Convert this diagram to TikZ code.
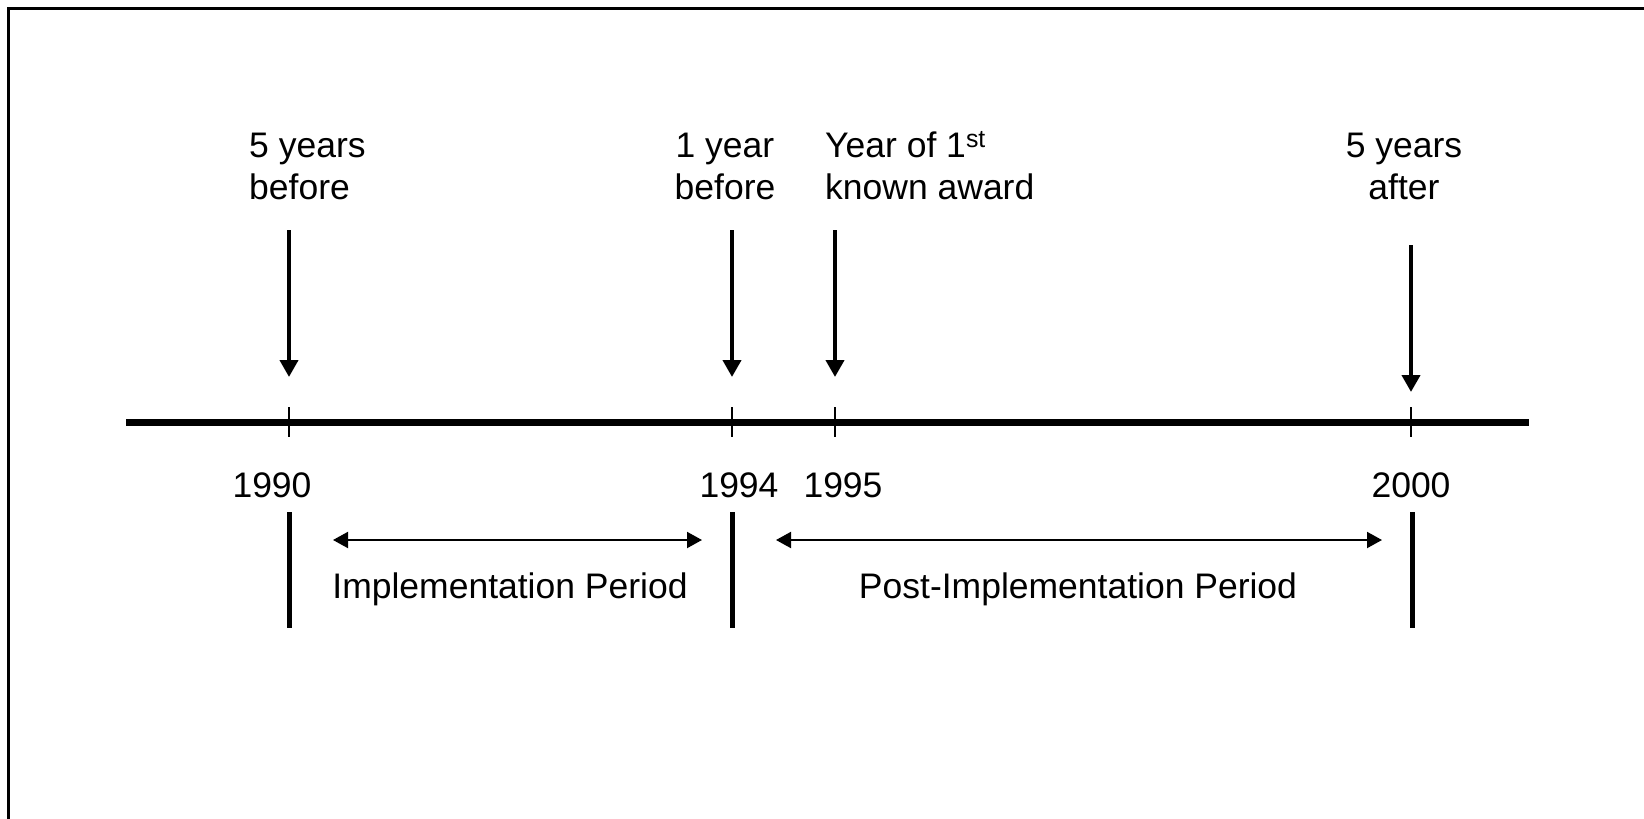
\documentclass[tikz,border=0pt]{standalone}
\usepackage{fontspec}
\setmainfont{Liberation Sans}
\usetikzlibrary{arrows.meta}
\begin{document}
\begin{tikzpicture}[x=1pt,y=-1pt,
  lbl/.style={font=\fontsize{35.5}{42}\selectfont, inner sep=0pt},
  axisline/.style={line width=7pt},
  tickline/.style={line width=2pt},
  downarrow/.style={line width=4pt,-{Triangle[width=18pt,length=17pt]}},
  barline/.style={line width=5pt},
  periodarrow/.style={line width=2pt,{Triangle[width=16pt,length=15pt]}-{Triangle[width=16pt,length=15pt]}}]
\useasboundingbox (0,0) rectangle (1644,819);
\fill[white] (0,0) rectangle (1644,819);
% frame (cropped at right and bottom)
\coordinate (fbl) at (8,819);
\coordinate (ftl) at (8,8);
\coordinate (ftr) at (1644,8);
\draw[line width=3pt] (fbl) -- (ftl) -- (ftr);
% axis
\coordinate (axL) at (126,422);
\coordinate (axR) at (1529,422);
\draw[axisline] (axL) -- (axR);
% ticks
\foreach \n/\x in {a/289,b/732,c/835,d/1411}{
  \coordinate (tk\n t) at (\x,407);
  \coordinate (tk\n b) at (\x,437);
  \draw[tickline] (tk\n t) -- (tk\n b);
}
% down arrows
\coordinate (da1s) at (289,230); \coordinate (da1e) at (289,377);
\coordinate (da2s) at (732,230); \coordinate (da2e) at (732,377);
\coordinate (da3s) at (835,230); \coordinate (da3e) at (835,377);
\coordinate (da4s) at (1411,245); \coordinate (da4e) at (1411,392);
\draw[downarrow] (da1s) -- (da1e);
\draw[downarrow] (da2s) -- (da2e);
\draw[downarrow] (da3s) -- (da3e);
\draw[downarrow] (da4s) -- (da4e);
% top labels (base anchor = baseline of last line)
\node[lbl, anchor=base west, align=left] (t1) at (249,199) {5 years\\before};
\node[lbl, anchor=base, align=center] (t2) at (725,199) {1 year\\before};
\node[lbl, anchor=base west, align=left] (t3) at (825,199) {Year of 1\textsuperscript{st}\\known award};
\node[lbl, anchor=base, align=center] (t4) at (1404,199) {5 years\\after};
% year labels
\node[lbl, anchor=base] (y1) at (272,497) {1990};
\node[lbl, anchor=base] (y2) at (739,497) {1994};
\node[lbl, anchor=base] (y3) at (843,497) {1995};
\node[lbl, anchor=base] (y4) at (1411,497) {2000};
% bars
\coordinate (b1t) at (289,512); \coordinate (b1b) at (289,628);
\coordinate (b2t) at (732,512); \coordinate (b2b) at (732,628);
\coordinate (b3t) at (1412,512); \coordinate (b3b) at (1412,628);
\draw[barline] (b1t) -- (b1b);
\draw[barline] (b2t) -- (b2b);
\draw[barline] (b3t) -- (b3b);
% period arrows
\coordinate (p1l) at (333,540); \coordinate (p1r) at (702,540);
\coordinate (p2l) at (776,540); \coordinate (p2r) at (1382,540);
\draw[periodarrow] (p1l) -- (p1r);
\draw[periodarrow] (p2l) -- (p2r);
\node[lbl, anchor=base] (l1) at (510,598) {Implementation Period};
\node[lbl, anchor=base] (l2) at (1078,598) {Post-Implementation Period};
\end{tikzpicture}
\end{document}
